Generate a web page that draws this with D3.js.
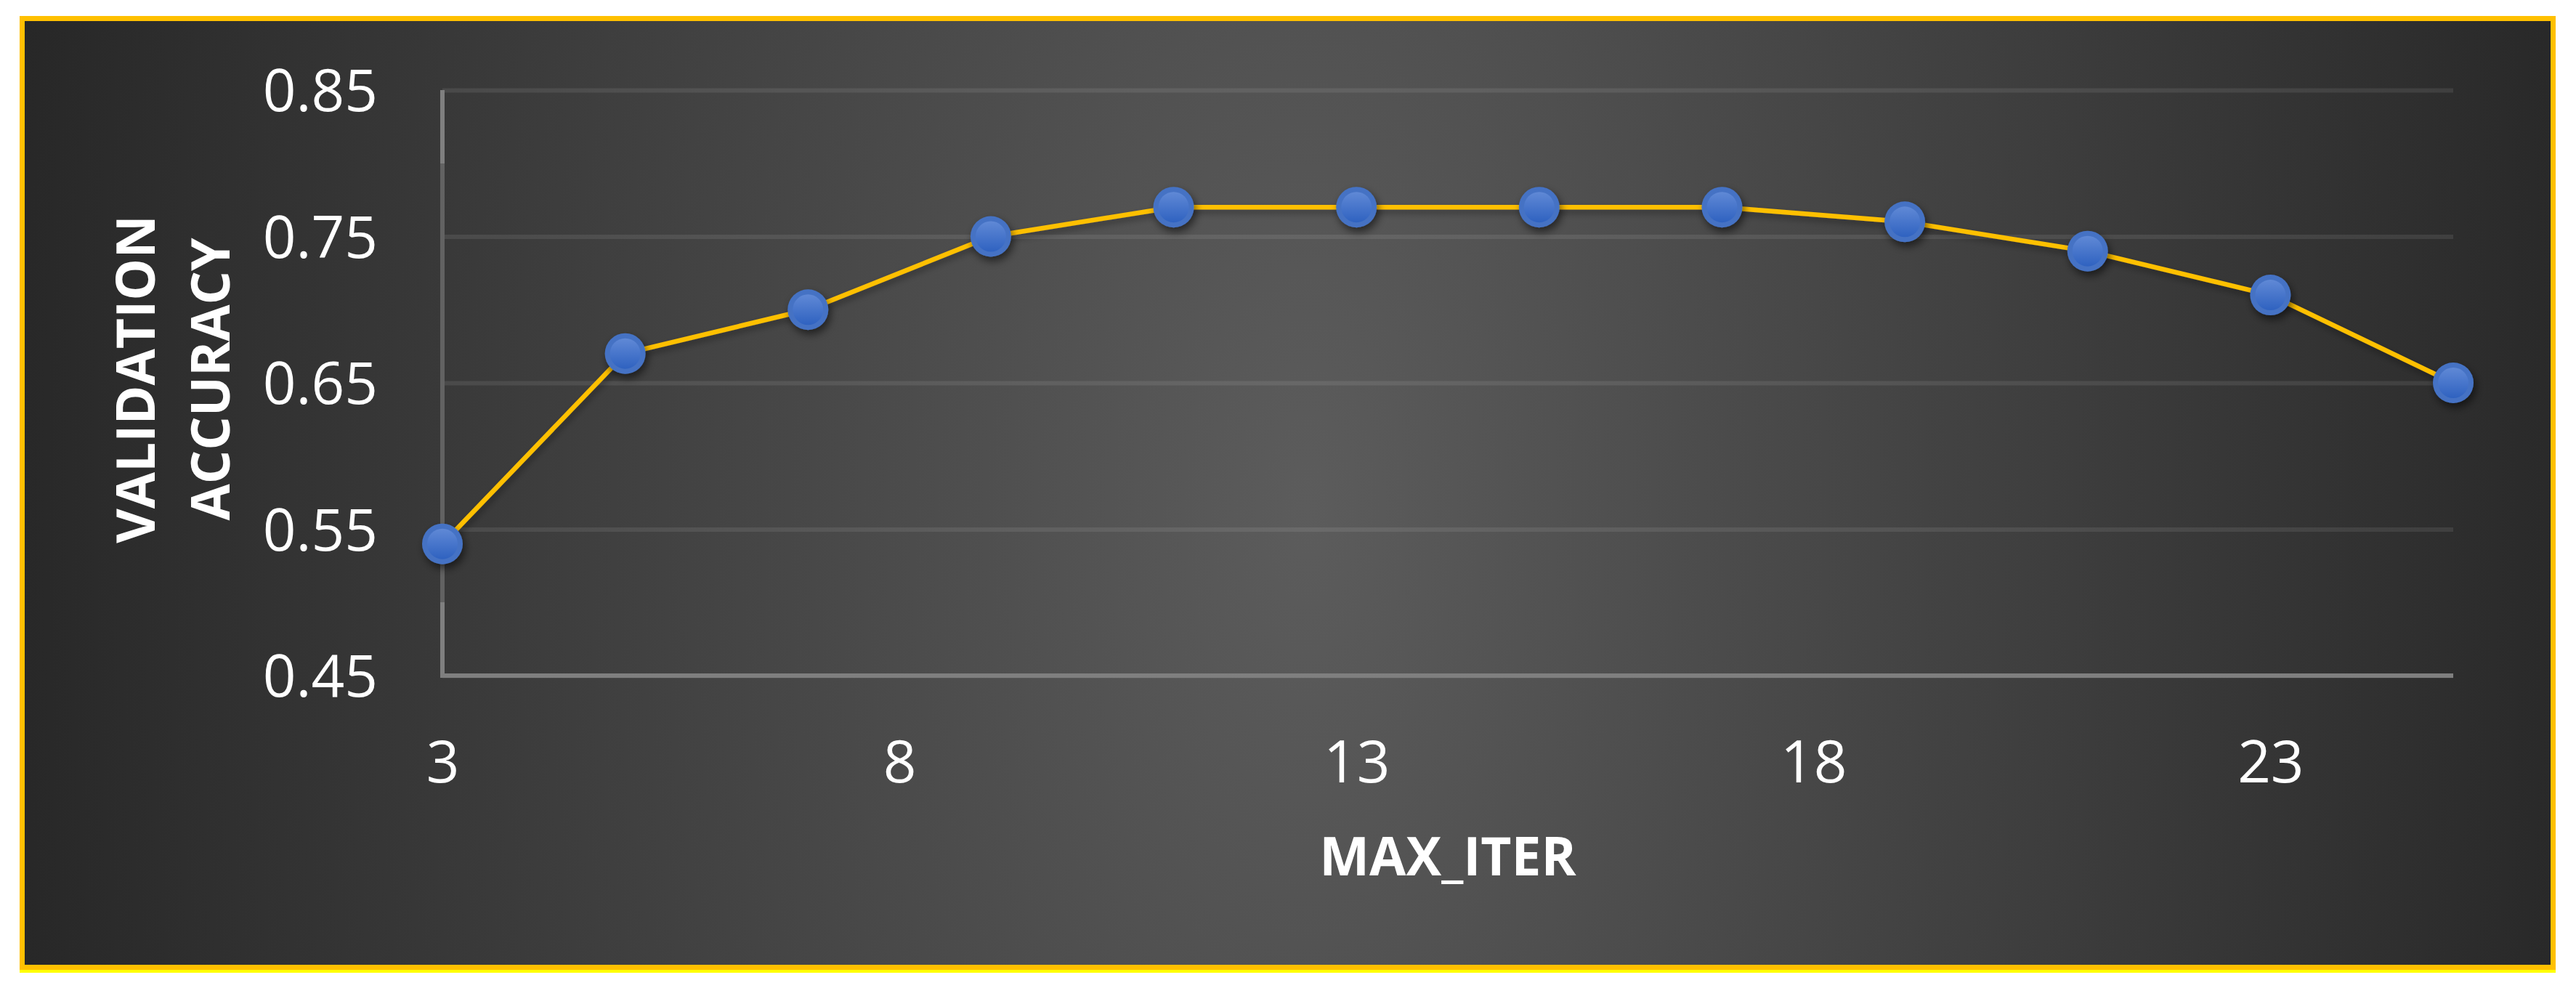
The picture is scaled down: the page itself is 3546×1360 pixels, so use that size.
<!DOCTYPE html>
<html>
<head>
<meta charset="utf-8">
<script src="https://cdn.jsdelivr.net/npm/d3@7"></script>
<style>
  html, body { margin: 0; padding: 0; background: #ffffff; }
  svg { display: block; }
  text { font-family: "Open Sans", "Noto Sans", sans-serif; }
</style>
</head>
<body>
<svg id="chart" width="3546" height="1360"></svg>
<script>
// ---- data ----
const maxIter = [3, 5, 7, 9, 11, 13, 15, 17, 19, 21, 23, 25];
const accuracy = [0.54, 0.67, 0.70, 0.75, 0.77, 0.77, 0.77, 0.77, 0.76, 0.74, 0.71, 0.65];
const yTicks = [0.45, 0.55, 0.65, 0.75, 0.85];
const xTicks = [3, 8, 13, 18, 23];
const xTitle = "MAX_ITER";
const yTitleLines = ["VALIDATION", "ACCURACY"];

// ---- layout ----
const W = 3546, H = 1360;
const plot = { left: 609, right: 3377, top: 124, bottom: 930 };

const svg = d3.select("#chart");
const defs = svg.append("defs");

// background radial gradient
const bg = defs.append("radialGradient")
  .attr("id", "bgGrad")
  .attr("gradientUnits", "userSpaceOnUse")
  .attr("cx", 1800).attr("cy", 700).attr("r", 1840)
  .attr("gradientTransform", "translate(1800,700) scale(1,1.96) translate(-1800,-700)");
bg.append("stop").attr("offset", 0).attr("stop-color", "#5c5c5c");
bg.append("stop").attr("offset", 1).attr("stop-color", "#262626");

// y axis line gradient
const yag = defs.append("linearGradient")
  .attr("id", "yAxisGrad")
  .attr("gradientUnits", "userSpaceOnUse")
  .attr("x1", 0).attr("y1", plot.top).attr("x2", 0).attr("y2", plot.bottom);
[[0, "#7f7f7f"], [0.125, "#7f7f7f"], [0.125, "#626262"], [0.875, "#626262"], [0.875, "#7f7f7f"], [1, "#7f7f7f"]]
  .forEach(([o, c]) => yag.append("stop").attr("offset", o).attr("stop-color", c));

// marker gradient
const mg = defs.append("linearGradient")
  .attr("id", "markerGrad")
  .attr("x1", 0).attr("y1", 0).attr("x2", 0).attr("y2", 1);
mg.append("stop").attr("offset", 0).attr("stop-color", "#6089d6");
mg.append("stop").attr("offset", 1).attr("stop-color", "#2f62c0");

// shadows
const sh = defs.append("filter").attr("id", "shadow")
  .attr("x", "-50%").attr("y", "-50%").attr("width", "200%").attr("height", "200%");
sh.append("feDropShadow").attr("dx", 3).attr("dy", 6).attr("stdDeviation", 6)
  .attr("flood-color", "#000").attr("flood-opacity", 0.55);
const lsh = defs.append("filter").attr("id", "lineShadow")
  .attr("x", "-10%").attr("y", "-50%").attr("width", "120%").attr("height", "200%");
lsh.append("feDropShadow").attr("dx", 2).attr("dy", 5).attr("stdDeviation", 5)
  .attr("flood-color", "#000").attr("flood-opacity", 0.35);

// frame
svg.append("rect")
  .attr("x", 27).attr("y", 1335).attr("width", 3491).attr("height", 4)
  .attr("fill", "#ffff00");
svg.append("rect")
  .attr("x", 30.5).attr("y", 25.5).attr("width", 3484).attr("height", 1306)
  .attr("fill", "url(#bgGrad)")
  .attr("stroke", "#ffc000").attr("stroke-width", 7);

// scales
const x = d3.scaleLinear().domain([3, 25]).range([plot.left, plot.right]);
const y = d3.scaleLinear().domain([0.45, 0.85]).range([plot.bottom, plot.top]);

// gridlines
const grid = svg.append("g")
  .attr("transform", `translate(${plot.left},0)`)
  .call(d3.axisLeft(y).tickValues(yTicks).tickSize(-(plot.right - plot.left)).tickFormat(""));
grid.select(".domain").remove();
grid.selectAll(".tick line")
  .attr("stroke", "#ffffff").attr("stroke-opacity", 0.085).attr("stroke-width", 6);

// axis lines
svg.append("line")
  .attr("x1", plot.left).attr("x2", plot.left)
  .attr("y1", plot.top).attr("y2", plot.bottom + 3)
  .attr("stroke", "url(#yAxisGrad)").attr("stroke-width", 6);
svg.append("line")
  .attr("x1", plot.left - 3).attr("x2", plot.right)
  .attr("y1", plot.bottom).attr("y2", plot.bottom)
  .attr("stroke", "#7f7f7f").attr("stroke-width", 6);

// y tick labels
const yAxis = svg.append("g")
  .attr("transform", `translate(${plot.left},0)`)
  .call(d3.axisLeft(y).tickValues(yTicks).tickSize(0).tickPadding(89).tickFormat(d3.format(".2f")));
yAxis.select(".domain").remove();
yAxis.selectAll("text")
  .attr("fill", "#ffffff").attr("font-size", 80)
  .attr("font-family", "'Open Sans', sans-serif")
  .attr("dy", "0.36em");

// x tick labels
const xAxis = svg.append("g")
  .attr("transform", `translate(0,${plot.bottom})`)
  .call(d3.axisBottom(x).tickValues(xTicks).tickSize(0).tickFormat(d3.format("d")));
xAxis.select(".domain").remove();
xAxis.selectAll("text")
  .attr("fill", "#ffffff").attr("font-size", 80)
  .attr("font-family", "'Open Sans', sans-serif")
  .attr("y", 147).attr("dy", 0);

// axis titles
svg.append("text")
  .attr("x", (plot.left + plot.right) / 2).attr("y", 1205)
  .attr("text-anchor", "middle")
  .attr("fill", "#ffffff").attr("font-size", 73).attr("font-weight", 700)
  .text(xTitle);

const yTitleX = [213, 316];
yTitleLines.forEach((t, i) => {
  svg.append("text")
    .attr("transform", `translate(${yTitleX[i]},522) rotate(-90)`)
    .attr("text-anchor", "middle")
    .attr("fill", "#ffffff").attr("font-size", 73).attr("font-weight", 700)
    .text(t);
});

// line
const data = maxIter.map((m, i) => ({ m, a: accuracy[i] }));
svg.append("path")
  .datum(data)
  .attr("d", d3.line().x(d => x(d.m)).y(d => y(d.a)))
  .attr("fill", "none")
  .attr("stroke", "#ffc000").attr("stroke-width", 6.5)
  .attr("stroke-linejoin", "round")
  .attr("filter", "url(#lineShadow)");

// markers
const mk = svg.append("g").selectAll("g").data(data).join("g")
  .attr("transform", d => `translate(${x(d.m)},${y(d.a)})`);
mk.append("circle").attr("r", 28).attr("fill", "#4472c4").attr("filter", "url(#shadow)");
mk.append("circle").attr("r", 21).attr("fill", "url(#markerGrad)");
</script>
</body>
</html>
